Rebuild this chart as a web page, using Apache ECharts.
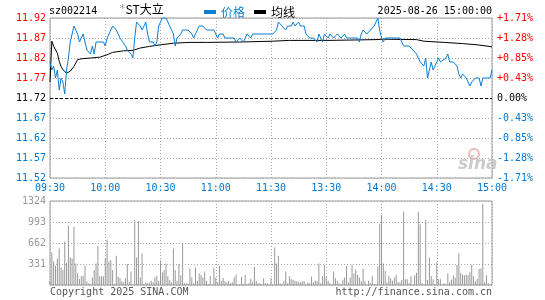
<!DOCTYPE html>
<html>
<head>
<meta charset="utf-8">
<script src="https://cdn.jsdelivr.net/npm/echarts@6/dist/echarts.min.js"></script>
<style>
html,body{margin:0;padding:0;background:#fff;}
#c{width:545px;height:300px;}
</style>
</head>
<body>
<div id="c"></div>
<script>
// ---- data ----
var stockCode = 'sz002214';
var stockName = 'ST大立';
var dateTime = '2025-08-26 15:00:00';
var prevClose = 11.72;
var timeLabels = ['09:30','10:00','10:30','11:00','11:30','13:30','14:00','14:30','15:00'];

// price (minute index from 09:30, price)
var priceMin = [0,1,2,3,4,5,6,7,8,9,10,11,12,13,14,15,16,17,18,19,20,21,22,23,24,25,27,29,30,31,33,34,36,38,39,41,42,43,44,45,46,47,48,49,50,51,52,53,54,56,57,58,59,60,61,63,64,65,66,67,68,69,70,71,72,75,77,78,80,81,83,85,89,90,91,92,94,95,97,100,101,103,105,106,107,108,109,110,121,123,124,125,126,127,128,129,130,131,132,133,134,135,136,137,138,139,140,141,143,144,145,146,147,148,149,150,151,152,154,156,158,159,160,161,163,167,168,169,170,172,174,176,177,178,179,180,181,182,190,191,192,195,197,199,200,201,202,203,204,205,206,207,208,209,210,211,212,215,216,217,219,221,222,223,224,225,226,228,229,230,231,233,234,235,239,240];
var priceVal = [11.81,11.79,11.80,11.77,11.79,11.74,11.77,11.76,11.73,11.79,11.82,11.86,11.88,11.90,11.90,11.88,11.86,11.87,11.88,11.86,11.84,11.84,11.83,11.85,11.83,11.86,11.86,11.86,11.85,11.87,11.89,11.90,11.89,11.87,11.87,11.85,11.84,11.84,11.83,11.82,11.87,11.91,11.91,11.90,11.89,11.90,11.91,11.88,11.86,11.86,11.85,11.86,11.90,11.91,11.92,11.92,11.92,11.90,11.89,11.88,11.85,11.87,11.87,11.88,11.89,11.89,11.88,11.87,11.89,11.90,11.90,11.89,11.89,11.88,11.87,11.88,11.88,11.87,11.87,11.87,11.86,11.87,11.86,11.87,11.88,11.88,11.87,11.88,11.88,11.89,11.91,11.91,11.90,11.90,11.89,11.90,11.90,11.90,11.91,11.90,11.90,11.91,11.90,11.90,11.90,11.88,11.88,11.87,11.87,11.87,11.86,11.88,11.87,11.86,11.88,11.88,11.87,11.88,11.87,11.88,11.87,11.87,11.88,11.87,11.87,11.87,11.86,11.88,11.89,11.88,11.89,11.90,11.90,11.92,11.89,11.87,11.86,11.87,11.87,11.86,11.85,11.85,11.84,11.83,11.82,11.81,11.81,11.80,11.82,11.77,11.79,11.81,11.79,11.80,11.80,11.82,11.81,11.82,11.83,11.81,11.81,11.80,11.78,11.77,11.78,11.78,11.77,11.75,11.76,11.76,11.77,11.77,11.75,11.77,11.77,11.79];

// average price line
var avgMin = [0,1,2,4,5,6,7,9,10,11,13,15,17,22,27,31,34,40,45,49,54,60,67,76,85,103,121,130,152,177,181,199,203,214,224,232,240];
var avgVal = [11.760,11.862,11.849,11.832,11.812,11.799,11.791,11.782,11.782,11.787,11.799,11.816,11.818,11.820,11.822,11.828,11.834,11.838,11.839,11.845,11.849,11.853,11.857,11.859,11.859,11.860,11.862,11.864,11.864,11.866,11.867,11.866,11.862,11.859,11.856,11.853,11.848];

// volume per minute (241 bars)
var volume = [
55,513,371,303,418,575,277,235,685,350,936,434,418,920,340,183,94,136,146,303,58,26,10,120,235,340,617,136,136,136,418,716,371,392,235,20,460,130,110,58,42,105,330,47,214,15,1025,434,
1009,120,497,10,42,26,37,68,42,120,146,68,392,199,235,340,136,78,42,575,235,68,330,152,664,26,26,10,262,120,26,277,68,183,157,120,214,68,10,136,10,277,120,42,303,68,110,58,
42,68,26,42,120,162,10,10,130,10,162,10,26,99,42,288,68,26,26,10,105,26,26,10,105,10,591,340,460,26,10,68,214,26,136,94,78,68,58,52,42,58,58,10,42,26,130,42,68,
68,340,26,136,314,136,68,26,10,214,105,68,26,10,84,120,303,42,120,319,183,246,162,120,58,262,58,10,68,26,136,10,10,293,967,1104,340,225,42,146,105,68,120,162,42,42,78,1156,
89,89,26,136,10,152,194,1156,957,31,10,1030,78,434,141,89,10,350,89,89,10,26,10,183,42,84,152,120,314,497,194,162,152,162,152,199,319,136,58,99,251,262,1281,42,152,26,10,10
];
var volMax = 1324;

// ---- chart ----
var RED = '#ff0000', BLUE = '#0078d0', LINEBLUE = '#0a7fd2', GREY = '#999999';
var MONO = 'DejaVu Sans Mono';
var CJK = 'Noto Sans CJK SC';

function near0(v){ return Math.abs(v) < 1e-9; }
function sideColor(v){ v = Number(v); return near0(v) ? '#000' : (v > 0 ? RED : BLUE); }

var priceData = priceMin.map(function(m,i){ return [m, +(priceVal[i]-prevClose).toFixed(4)]; });
var avgData = avgMin.map(function(m,i){ return [m, +(avgVal[i]-prevClose).toFixed(4)]; });
var volData = volume.map(function(v,i){ return [i, v]; });

var splitStyle = {show:true, lineStyle:{color:'#aaaaaa', type:[1,2], width:1}};

var chart = echarts.init(document.getElementById('c'), null, {renderer:'canvas'});
chart.setOption({
  animation:false,
  backgroundColor:'#fff',
  legend:{
    left:199, top:1, itemWidth:12, itemHeight:4, itemGap:9, icon:'rect',
    textStyle:{fontFamily:CJK, fontSize:12},
    data:[{name:'价格', textStyle:{color:LINEBLUE}}, {name:'均线', textStyle:{color:'#000'}}]
  },
  graphic:[
    {type:'text', left:49, top:6, style:{text:stockCode, font:'10px "'+MONO+'"', fill:'#000'}},
    {type:'text', left:119, top:3, style:{text:'{g|*}'+stockName, rich:{g:{fill:'#999', fontFamily:MONO, fontSize:11}}, fontFamily:CJK, fontSize:12, fill:'#000'}},
    {type:'text', right:53, top:6, style:{text:dateTime, font:'10px "'+MONO+'"', fill:'#000'}},
    {type:'text', left:50, top:287, style:{text:'Copyright 2025 SINA.COM', font:'10px "'+MONO+'"', fill:'#555'}},
    {type:'text', right:53, top:287, style:{text:'http://finance.sina.com.cn', font:'10px "'+MONO+'"', fill:'#555'}},
    {type:'circle', shape:{cx:474, cy:154, r:5}, style:{fill:'none', stroke:'#f0b8b8', lineWidth:2}},
    {type:'text', left:458, top:156, style:{text:'sina', font:'italic bold 17px "DejaVu Sans"', fill:'#cccccc'}}
  ],
  grid:[
    {left:50, top:18, width:442, height:160, show:true, borderColor:GREY, borderWidth:1},
    {left:50, top:201, width:442, height:84, show:true, borderColor:GREY, borderWidth:1}
  ],
  xAxis:[
    {type:'value', gridIndex:0, min:0, max:240, interval:30,
     axisLine:{show:false}, axisTick:{show:false}, splitLine:splitStyle,
     axisLabel:{show:true, margin:5, color:BLUE, fontFamily:MONO, fontSize:10, showMinLabel:true, showMaxLabel:true,
       formatter:function(v){ return timeLabels[Math.round(v/30)] || ''; }}},
    {type:'value', gridIndex:1, min:0, max:240, interval:30,
     axisLine:{show:false}, axisTick:{show:false}, splitLine:splitStyle, axisLabel:{show:false}}
  ],
  yAxis:[
    {type:'value', gridIndex:0, min:-0.20, max:0.20, interval:0.05,
     axisLine:{show:false}, axisTick:{show:false}, splitLine:splitStyle,
     axisLabel:{margin:4, fontFamily:MONO, fontSize:10, color:function(v){ return sideColor(v); },
       formatter:function(v){ return (prevClose + v).toFixed(2); }}},
    {type:'value', gridIndex:0, position:'right', min:-0.20, max:0.20, interval:0.05,
     axisLine:{show:false}, axisTick:{show:false}, splitLine:{show:false},
     axisLabel:{margin:5, fontFamily:MONO, fontSize:10, color:function(v){ return sideColor(v); },
       formatter:function(v){
         if (near0(v)) return '0.00%';
         var p = v / prevClose * 100;
         return (p > 0 ? '+' : '-') + Math.abs(p).toFixed(2) + '%';
       }}},
    {type:'value', gridIndex:1, min:0, max:volMax, interval:volMax/4,
     axisLine:{show:false}, axisTick:{show:false}, splitLine:splitStyle,
     axisLabel:{margin:4, fontFamily:MONO, fontSize:10, color:GREY,
       formatter:function(v){ return v === 0 ? '' : String(Math.round(v)); }}}
  ],
  series:[
    {name:'价格', type:'line', xAxisIndex:0, yAxisIndex:0, data:priceData, symbol:'none',
     lineStyle:{color:LINEBLUE, width:1}, itemStyle:{color:LINEBLUE}, z:4,
     markLine:{silent:true, symbol:'none', label:{show:false},
       lineStyle:{color:'#000', type:[3,2], width:1}, data:[{yAxis:0}]}},
    {name:'均线', type:'line', xAxisIndex:0, yAxisIndex:0, data:avgData, symbol:'none',
     lineStyle:{color:'#000', width:1}, itemStyle:{color:'#000'}, z:3},
    {name:'成交量', type:'bar', xAxisIndex:1, yAxisIndex:2, data:volData, barWidth:1,
     itemStyle:{color:'#999999'}}
  ]
});
</script>
</body>
</html>
